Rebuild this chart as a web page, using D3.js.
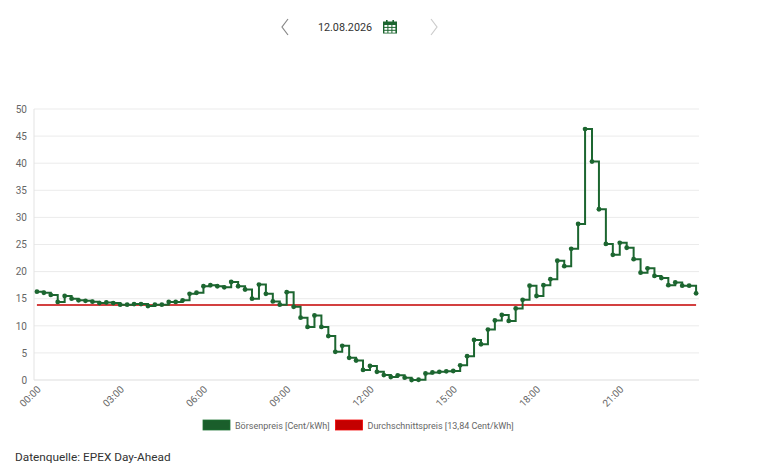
<!DOCTYPE html>
<html>
<head>
<meta charset="utf-8">
<script src="https://cdn.jsdelivr.net/npm/d3@7"></script>
<style>
  html, body { margin: 0; padding: 0; background: #fff; }
  svg { display: block; font-family: Roboto, "Open Sans", sans-serif; }
</style>
</head>
<body>
<div id="canvas"></div>
<script>
(function(d3){

  // 15-minute slots, 12.08.2026
  var times = d3.range(96).map(function(i){
        return d3.format('02')(Math.floor(i / 4)) + ':' + d3.format('02')((i % 4) * 15);
      }),
      prices = [
        16.3, 16.1, 15.7, 14.4, 15.5, 15.0, 14.7, 14.6, 14.45, 14.2, 14.3, 14.2,
        13.9, 13.9, 14.0, 14.0, 13.65, 13.9, 13.9, 14.4, 14.4, 14.7, 15.9, 16.1,
        17.3, 17.5, 17.3, 17.1, 18.1, 17.3, 16.7, 15.0, 17.6, 15.9, 14.5, 13.9,
        16.2, 13.5, 11.5, 9.8, 11.9, 9.8, 8.1, 5.2, 6.3, 4.1, 3.6, 1.85,
        2.6, 1.5, 0.9, 0.55, 0.86, 0.43, 0.0, 0.05, 1.2, 1.4, 1.5, 1.6,
        1.66, 2.7, 4.4, 7.4, 6.6, 9.3, 11.0, 12.0, 10.9, 13.2, 14.8, 17.4,
        15.5, 17.5, 18.6, 22.0, 21.0, 24.2, 28.8, 46.3, 40.3, 31.5, 25.1, 23.1,
        25.3, 24.4, 22.3, 19.8, 20.6, 19.2, 18.8, 17.5, 18.0, 17.4, 17.4, 16.0
      ],
      average = 13.84,
      yTicks = [0, 5, 10, 15, 20, 25, 30, 35, 40, 45, 50],
      xTicks = ['00:00', '03:00', '06:00', '09:00', '12:00', '15:00', '18:00', '21:00'],
      dateLabel = '12.08.2026',
      legendLabels = ['Börsenpreis [Cent/kWh]', 'Durchschnittspreis [13,84 Cent/kWh]'],
      source = 'Datenquelle: EPEX Day-Ahead';

  var canvas_d = {width: 768, height: 468},
      margin = {top: 109, right: 69, bottom: 88, left: 34},
      chart_d = {
        width: canvas_d.width - margin.left - margin.right,
        height: canvas_d.height - margin.top - margin.bottom
      },
      green = '#1c6630',
      red = '#c40000',
      grey = '#666';

  var canvas = d3.select('#canvas').append('svg')
      .attr('width', canvas_d.width)
      .attr('height', canvas_d.height);

  /**
   * Date header.
   */
  var head = canvas.append('g');
  head.append('path')
      .attr('d', 'M288,19 L282,27 L288,35')
      .attr('fill', 'none').attr('stroke', '#888').attr('stroke-width', 1.2);
  head.append('path')
      .attr('d', 'M431,19 L437,27 L431,35')
      .attr('fill', 'none').attr('stroke', '#ccc').attr('stroke-width', 1.2);
  head.append('text')
      .attr('x', 345).attr('y', 31)
      .attr('text-anchor', 'middle')
      .attr('font-size', 10.8).attr('fill', '#333')
      .text(dateLabel);

  var cal = head.append('g').attr('transform', 'translate(383,20)');
  cal.append('rect').attr('x', 0).attr('y', 1.5).attr('width', 14).attr('height', 12).attr('fill', green);
  cal.append('rect').attr('x', 3).attr('y', 0).attr('width', 1.6).attr('height', 3).attr('fill', green);
  cal.append('rect').attr('x', 9.4).attr('y', 0).attr('width', 1.6).attr('height', 3).attr('fill', green);
  cal.selectAll('rect.cell')
      .data(d3.range(9))
    .enter().append('rect')
      .attr('class', 'cell')
      .attr('x', function(d){ return 1.4 + (d % 3) * 4; })
      .attr('y', function(d){ return 5 + Math.floor(d / 3) * 2.9; })
      .attr('width', 3).attr('height', 1.9)
      .attr('fill', '#fff');

  /**
   * Chart.
   */
  var chart = canvas.append('g')
      .attr('transform', 'translate(' + margin.left + ', ' + margin.top + ')');

  var x = d3.scalePoint()
      .domain(times)
      .range([0, chart_d.width])
      .padding(0.42);

  var y = d3.scaleLinear()
      .domain([0, 50])
      .range([chart_d.height, 0]);

  chart.append('g')
      .selectAll('line')
      .data(yTicks)
    .enter().append('line')
      .attr('x1', 0).attr('x2', chart_d.width)
      .attr('y1', function(d){ return y(d); })
      .attr('y2', function(d){ return y(d); })
      .attr('stroke', function(d){ return d === 0 ? '#ddd' : '#ebebeb'; })
      .attr('stroke-width', 1);

  chart.append('line')
      .attr('x1', 0).attr('x2', 0)
      .attr('y1', 0).attr('y2', chart_d.height)
      .attr('stroke', '#e3e3e3');

  var yAxis = chart.append('g')
      .call(d3.axisLeft(y).tickValues(yTicks).tickSize(0).tickPadding(7));
  yAxis.select('.domain').remove();
  yAxis.selectAll('text')
      .attr('font-family', 'Roboto, sans-serif')
      .attr('font-size', 10).attr('fill', grey);

  var xAxis = chart.append('g')
      .attr('transform', 'translate(0,' + chart_d.height + ')')
      .call(d3.axisBottom(x).tickValues(xTicks).tickSize(0).tickPadding(0));
  xAxis.select('.domain').remove();
  xAxis.selectAll('text')
      .attr('font-family', 'Roboto, sans-serif')
      .attr('font-size', 10).attr('fill', grey)
      .attr('text-anchor', 'end')
      .attr('dy', 0)
      .attr('transform', 'translate(4,10) rotate(-45)');

  // average line
  chart.append('line')
      .attr('x1', x(times[0])).attr('x2', x(times[times.length - 1]))
      .attr('y1', y(average)).attr('y2', y(average))
      .attr('stroke', red).attr('stroke-width', 1.6);

  // price steps
  var line = d3.line()
      .x(function(d, i){ return x(times[i]); })
      .y(function(d){ return y(d); })
      .curve(d3.curveStepAfter);

  chart.append('path')
      .datum(prices)
      .attr('d', line)
      .attr('fill', 'none')
      .attr('stroke', green)
      .attr('stroke-width', 2);

  chart.selectAll('circle')
      .data(prices)
    .enter().append('circle')
      .attr('cx', function(d, i){ return x(times[i]); })
      .attr('cy', function(d){ return y(d); })
      .attr('r', 2.4)
      .attr('fill', green);

  /**
   * Legend.
   */
  var legend = canvas.append('g').attr('transform', 'translate(203,420)');
  var items = [
    {label: legendLabels[0], color: '#1a5e2b', x: 0},
    {label: legendLabels[1], color: red, x: 132.5}
  ];
  var item = legend.selectAll('g')
      .data(items)
    .enter().append('g')
      .attr('transform', function(d){ return 'translate(' + d.x + ',0)'; });
  item.append('rect')
      .attr('width', 27).attr('height', 10)
      .attr('fill', function(d){ return d.color; })
      .attr('stroke', function(d){ return d3.color(d.color).brighter(0.6); })
      .attr('stroke-width', 0.8);
  item.append('text')
      .attr('x', 32).attr('y', 8.5)
      .attr('font-size', 9).attr('fill', grey)
      .text(function(d){ return d.label; });

  canvas.append('text')
      .attr('x', 15).attr('y', 461)
      .attr('font-size', 11.8).attr('fill', '#333')
      .text(source);

})(d3);
</script>
</body>
</html>
